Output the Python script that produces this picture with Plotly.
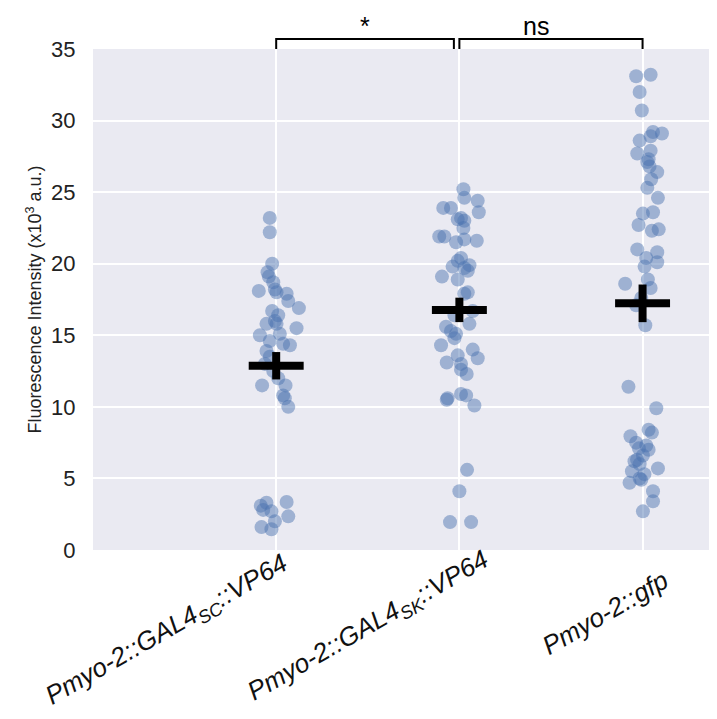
import numpy as np
import plotly.graph_objects as go

# ---------------- data ----------------
categories = [
    "<i>Pmyo-2::GAL4<sub>SC</sub>::VP64</i>",
    "<i>Pmyo-2::GAL4<sub>SK</sub>::VP64</i>",
    "<i>Pmyo-2::gfp</i>",
]

vals_sc = [23.2, 22.2, 20.0, 19.4, 19.1, 18.7, 18.1, 18.2, 18.0, 17.9, 17.4, 16.9,
           16.7, 16.4, 16.0, 15.8, 15.8, 15.5, 15.0, 15.1, 14.6, 14.3, 14.4, 13.9,
           13.5, 13.0, 12.5, 12.0, 11.5, 11.5, 10.8, 10.6, 10.0, 3.35, 3.1, 3.3,
           2.8, 2.7, 2.35, 2.0, 1.6, 1.45]
jit_sc = [-0.035, -0.035, -0.022, -0.047, -0.040, -0.016, -0.095, -0.007, 0.002, 0.057,
          0.066, 0.124, -0.022, 0.011, -0.007, 0.002, -0.053, 0.111, -0.089, 0.020,
          -0.035, 0.075, 0.038, -0.053, -0.035, -0.062, -0.016, 0.011, -0.077, 0.051,
          0.038, 0.047, 0.066, 0.057, -0.084, -0.053, -0.071, -0.026, 0.066, -0.007,
          -0.080, -0.026]

vals_sk = [25.2, 24.6, 24.4, 23.9, 23.9, 23.6, 23.2, 23.1, 23.0, 22.5, 21.9, 21.9,
           21.5, 21.7, 21.6, 20.4, 20.2, 19.9, 19.8, 19.7, 19.5, 19.1, 18.9, 18.0,
           17.9, 16.7, 16.4, 15.8, 15.6, 15.3, 15.1, 14.8, 14.3, 14.0, 13.6, 13.4,
           13.1, 13.0, 12.6, 12.3, 10.6, 10.5, 10.9, 10.8, 10.1, 5.6, 4.1, 1.95, 1.95]
jit_sk = [0.022, 0.027, 0.100, -0.088, -0.046, 0.106, 0.009, -0.009, 0.027, 0.022,
          -0.110, -0.082, -0.018, 0.027, 0.095, 0.009, -0.009, 0.055, -0.037, 0.027,
          0.046, -0.095, -0.009, 0.046, 0.027, 0.073, -0.027, 0.055, -0.073, -0.046,
          -0.018, -0.027, -0.100, 0.073, -0.009, 0.100, -0.069, 0.009, 0.009, 0.040,
          -0.064, -0.069, 0.009, 0.037, 0.082, 0.042, 0.000, -0.051, 0.064]

vals_gfp = [33.1, 33.2, 32.0, 30.7, 29.2, 29.1, 28.6, 28.9, 27.7, 27.9, 27.3, 27.1,
            26.8, 26.4, 25.9, 25.3, 24.6, 23.6, 23.5, 22.7, 22.3, 22.4, 21.0, 20.8,
            20.4, 20.1, 19.8, 18.6, 18.9, 18.3, 17.1, 15.7, 17.6, 11.4, 9.9, 8.4,
            8.2, 7.95, 7.5, 7.3, 7.0, 6.6, 6.2, 6.0, 5.7, 5.5, 5.0, 4.7, 4.9, 4.1,
            3.4, 2.7, 6.3, 5.3, 7.1]
jit_gfp = [-0.035, 0.044, -0.016, -0.004, 0.057, 0.106, -0.016, 0.044, -0.029, 0.044,
           0.033, 0.026, 0.038, 0.080, 0.047, 0.026, 0.084, 0.057, 0.002, -0.022,
           0.051, 0.088, -0.029, 0.080, 0.020, 0.080, 0.011, -0.095, 0.029, 0.044,
           -0.035, 0.015, -0.007, -0.077, 0.075, 0.033, 0.051, -0.066, -0.035, 0.020,
           0.033, 0.002, -0.044, -0.016, 0.084, -0.058, -0.016, -0.071, -0.007, 0.057,
           0.057, 0.002, -0.030, 0.010, -0.020]

significance = ["*", "ns"]
y_ticks = [0, 5, 10, 15, 20, 25, 30, 35]

# ---------------- figure ----------------
FONT = "Liberation Sans, Arial, sans-serif"
groups = [(vals_sc, jit_sc), (vals_sk, jit_sk), (vals_gfp, jit_gfp)]
point_color = "rgba(76,114,176,0.48)"
x_range = [-1.0, 2.45]
fig = go.Figure()

for i, (vals, jit) in enumerate(groups):
    fig.add_trace(go.Scatter(
        x=[i + j for j in jit], y=vals, mode="markers",
        marker=dict(size=14, color=point_color, line=dict(width=0)),
        showlegend=False, hoverinfo="y", cliponaxis=False,
    ))

for i, (vals, _) in enumerate(groups):
    arr = np.array(vals)
    m = arr.mean()
    sem = arr.std(ddof=1) / np.sqrt(len(arr))
    fig.add_trace(go.Scatter(x=[i - 0.15, i + 0.15], y=[m, m], mode="lines",
                             line=dict(color="black", width=8), showlegend=False,
                             hoverinfo="skip"))
    fig.add_trace(go.Scatter(x=[i, i], y=[m - sem, m + sem], mode="lines",
                             line=dict(color="black", width=8), showlegend=False,
                             hoverinfo="skip"))

def px(c):
    return (c - x_range[0]) / (x_range[1] - x_range[0])

# significance brackets
brackets = [(0, 0.97), (1.0, 2)]
for (a, b), lab in zip(brackets, significance):
    fig.add_shape(type="path", xref="paper", yref="paper",
                  path=f"M {px(a)} 1.0 L {px(a)} 1.02 L {px(b)} 1.02 L {px(b)} 1.0",
                  line=dict(color="black", width=2))
    fig.add_annotation(x=px((a + b) / 2), y=1.02, xref="paper", yref="paper",
                       text=lab, showarrow=False, yanchor="bottom", yshift=-3,
                       font=dict(size=25, color="black", family=FONT))

# rotated category labels
label_shift = [(20, 5), (38, 9), (33, -12)]
for i, (lab, (dx, dy)) in enumerate(zip(categories, label_shift)):
    fig.add_annotation(x=i, y=0, xref="x", yref="paper", text=lab, showarrow=False,
                       textangle=-30, xanchor="right", yanchor="top",
                       xshift=dx, yshift=dy,
                       font=dict(size=26, color="#111111", family=FONT))

fig.update_layout(
    width=717, height=719,
    margin=dict(l=85, r=0, t=41, b=177, autoexpand=False),
    paper_bgcolor="white", plot_bgcolor="#EAEAF2",
    font=dict(family=FONT, color="#262626"),
    showlegend=False,
)
fig.update_xaxes(
    range=x_range, tickmode="array", tickvals=[0, 1, 2], showticklabels=False,
    automargin=False,
    showgrid=True, gridcolor="white", gridwidth=2, zeroline=False,
    showline=False, ticks="",
)
fig.update_yaxes(
    range=[0, 35], tickmode="array", tickvals=y_ticks, automargin=False,
    tickfont=dict(size=22, color="#222222"),
    showgrid=True, gridcolor="white", gridwidth=2, zeroline=False,
    showline=False, ticks="outside", ticklen=12, tickcolor="rgba(0,0,0,0)",
    title=dict(text="Fluorescence Intensity (x10<sup>3</sup> a.u.)",
               font=dict(size=18, color="#222222"), standoff=4),
)

fig.write_html("out.html")
